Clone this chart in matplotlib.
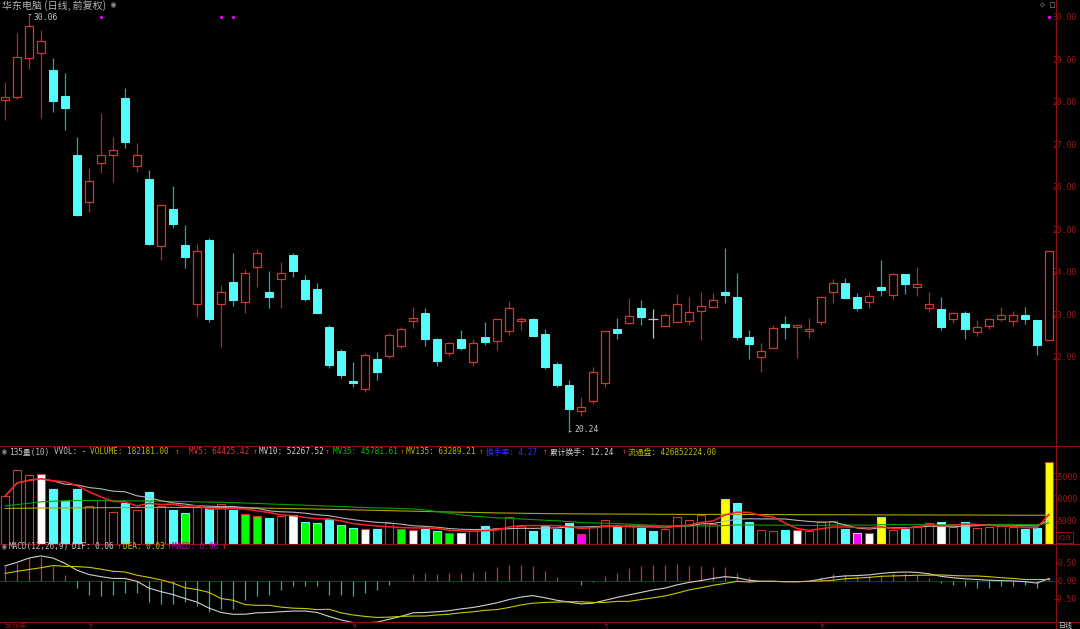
import numpy as np
import pandas as pd
import matplotlib
matplotlib.use('Agg')
import matplotlib.pyplot as plt
from matplotlib.lines import Line2D
from matplotlib.patches import Rectangle
from matplotlib.transforms import blended_transform_factory

# ============================================================
# DATA  (华东电脑 daily, 2020-02-20 .. 2020-06-30, qfq)
# ============================================================
opens = [
    28.05, 28.12, 29.04, 29.15, 28.75, 28.14, 26.75, 25.65, 26.56, 26.75,
    28.09, 26.49, 26.19, 24.61, 25.48, 24.64, 23.25, 24.75, 23.25, 23.76,
    23.29, 24.12, 23.53, 23.84, 24.40, 23.81, 23.60, 22.71, 22.14, 21.44,
    21.25, 21.95, 22.02, 22.26, 22.85, 23.04, 22.42, 22.09, 22.42, 21.88,
    22.47, 22.38, 22.61, 22.85, 22.89, 22.54, 21.84, 21.34, 20.73, 20.96,
    21.39, 22.66, 22.80, 23.15, 22.89, 22.73, 22.82, 22.85, 23.08, 23.18,
    23.53, 23.41, 22.47, 22.00, 22.21, 22.78, 22.71, 22.61, 22.82, 23.53,
    23.74, 23.41, 23.29, 23.65, 23.46, 23.95, 23.65, 23.15, 23.13, 22.89,
    23.04, 22.59, 22.73, 22.89, 22.85, 22.99, 22.87, 22.40]
highs = [
    28.47, 29.62, 30.06, 29.69, 29.04, 28.68, 27.18, 26.45, 27.74, 27.18,
    28.33, 27.04, 26.40, 25.58, 26.02, 25.11, 24.66, 24.80, 23.69, 24.45,
    24.07, 24.54, 24.02, 24.24, 24.45, 23.93, 23.74, 22.75, 22.19, 21.88,
    22.09, 22.12, 22.56, 22.71, 23.18, 23.15, 22.45, 22.35, 22.64, 22.42,
    22.82, 22.89, 23.32, 22.94, 22.92, 22.66, 21.88, 21.46, 21.06, 21.76,
    22.61, 22.92, 23.39, 23.34, 23.13, 23.04, 23.48, 23.41, 23.53, 23.51,
    24.56, 23.98, 22.64, 22.33, 22.75, 22.96, 22.75, 22.92, 23.41, 23.84,
    23.86, 23.51, 23.53, 24.28, 23.98, 23.95, 24.12, 23.53, 23.41, 23.06,
    23.08, 22.87, 22.92, 23.18, 23.08, 23.18, 22.87, 24.49]
lows = [
    27.58, 28.07, 28.78, 27.62, 27.76, 27.34, 25.32, 25.41, 26.33, 26.12,
    26.92, 26.35, 24.64, 24.28, 25.04, 24.09, 22.94, 22.82, 22.24, 23.20,
    23.04, 23.65, 23.15, 23.15, 23.88, 23.32, 23.04, 21.74, 21.51, 21.29,
    21.18, 21.46, 21.98, 22.21, 22.68, 22.26, 21.79, 22.02, 22.16, 21.79,
    22.28, 22.16, 22.52, 22.64, 22.49, 21.72, 21.29, 20.24, 20.61, 20.89,
    21.29, 22.42, 22.78, 22.75, 22.45, 22.73, 22.82, 22.75, 22.40, 23.18,
    23.27, 22.40, 21.95, 21.65, 22.21, 22.42, 21.98, 22.45, 22.75, 23.27,
    23.36, 23.08, 23.15, 23.44, 23.36, 23.48, 23.44, 23.06, 22.64, 22.80,
    22.42, 22.49, 22.66, 22.85, 22.73, 22.78, 22.05, 22.40]
closes = [
    28.12, 29.06, 29.79, 29.44, 28.02, 27.86, 25.34, 26.14, 26.75, 26.87,
    27.06, 26.75, 24.66, 25.58, 25.13, 24.35, 24.49, 22.89, 23.53, 23.34,
    23.98, 24.45, 23.41, 23.98, 24.02, 23.36, 23.04, 21.81, 21.58, 21.39,
    22.05, 21.65, 22.52, 22.66, 22.92, 22.42, 21.91, 22.33, 22.21, 22.33,
    22.35, 22.89, 23.15, 22.89, 22.49, 21.76, 21.34, 20.78, 20.82, 21.65,
    22.61, 22.56, 22.96, 22.94, 22.89, 22.99, 23.25, 23.06, 23.20, 23.34,
    23.46, 22.47, 22.31, 22.14, 22.68, 22.71, 22.75, 22.66, 23.41, 23.74,
    23.39, 23.15, 23.44, 23.58, 23.95, 23.72, 23.72, 23.25, 22.71, 23.04,
    22.66, 22.71, 22.89, 22.99, 22.99, 22.89, 22.28, 24.49]

# volume in lots (手)
volume = [
    104900, 163800, 152400, 154700, 120200, 94900, 120900, 83600, 97300, 70400,
    91100, 74200, 114000, 83600, 73600, 68200, 81100, 75800, 87300, 73600,
    66000, 60400, 56700, 62000, 64400, 46700, 45300, 54400, 40700, 34400,
    32900, 32200, 45300, 32900, 30000, 32200, 27600, 24400, 24400, 27600,
    37800, 35300, 58200, 40000, 27600, 39100, 32900, 45300, 22200, 36000,
    51300, 38400, 41300, 34400, 28400, 31500, 59100, 51300, 64400, 43800,
    98900, 90400, 47600, 30700, 28400, 30700, 29100, 26900, 47600, 49100,
    31500, 23100, 23100, 59100, 30700, 32200, 40000, 46000, 46700, 36900,
    47600, 33800, 36000, 39100, 36000, 31500, 33800, 182181]

# VVOL special bar fills (bar index lists)
vol_white = [3, 24, 30, 34, 38, 66, 72, 78]
vol_green = [15, 20, 21, 25, 26, 28, 29, 33, 36, 37]
vol_yellow = [60, 73, 87]
vol_magenta = [48, 71]

# MV35 before 35 bars of history are visible (thousands)
mv35_head = [83.6, 86.5, 89.5, 92.5, 94.0, 95.0, 95.5, 95.5, 95.5, 95.0,
             95.0, 94.5, 94.5, 94.0, 93.5, 93.0, 92.5, 92.0, 91.5, 91.0,
             90.0, 89.0, 88.0, 87.0, 86.0, 85.0, 84.0, 83.0, 82.0, 81.0,
             80.0, 79.0, 78.5, 77.7]
# MV135 (thousands)
mv135_k = [
    78.0, 78.2, 78.5, 78.8, 79.0, 79.1, 79.3, 79.4, 79.6, 79.7,
    79.8, 79.9, 80.1, 80.2, 80.2, 80.1, 80.0, 79.8, 79.6, 79.4,
    79.1, 78.8, 78.4, 78.0, 77.5, 77.0, 76.5, 76.0, 75.4, 74.8,
    74.2, 73.6, 73.0, 72.4, 71.8, 71.2, 70.6, 70.0, 69.5, 69.0,
    68.5, 68.0, 67.6, 67.2, 66.8, 66.5, 66.2, 66.0, 65.8, 65.6,
    65.5, 65.4, 65.3, 65.2, 65.0, 64.9, 64.8, 64.8, 64.7, 64.6,
    64.6, 64.5, 64.4, 64.4, 64.3, 64.2, 64.1, 64.0, 64.0, 63.9,
    63.9, 63.8, 63.7, 63.6, 63.6, 63.5, 63.5, 63.4, 63.4, 63.3,
    63.3, 63.2, 63.1, 63.0, 62.9, 62.8, 62.7, 63.3]

# MACD(12,26,9)
dif = [
    0.41, 0.51, 0.63, 0.69, 0.63, 0.48, 0.29, 0.17, 0.11, 0.06,
    0.06, -0.02, -0.21, -0.31, -0.39, -0.50, -0.60, -0.77, -0.89, -0.94,
    -0.94, -0.90, -0.89, -0.87, -0.85, -0.85, -0.89, -1.00, -1.10, -1.17,
    -1.18, -1.16, -1.08, -1.00, -0.90, -0.89, -0.87, -0.84, -0.79, -0.75,
    -0.69, -0.62, -0.53, -0.46, -0.42, -0.48, -0.55, -0.60, -0.65, -0.63,
    -0.55, -0.47, -0.40, -0.33, -0.26, -0.21, -0.12, -0.05, 0.00, 0.06,
    0.11, 0.08, 0.01, -0.02, -0.02, -0.03, -0.03, -0.02, 0.04, 0.10,
    0.13, 0.14, 0.16, 0.20, 0.23, 0.24, 0.23, 0.19, 0.12, 0.08,
    0.05, 0.03, 0.01, 0.00, -0.01, -0.03, -0.07, 0.06]
dea = [
    0.20, 0.26, 0.31, 0.36, 0.42, 0.40, 0.39, 0.37, 0.32, 0.26,
    0.24, 0.15, 0.09, 0.02, -0.07, -0.20, -0.25, -0.33, -0.50, -0.55,
    -0.67, -0.69, -0.69, -0.74, -0.77, -0.78, -0.81, -0.80, -0.90, -0.96,
    -1.00, -1.03, -1.02, -1.00, -0.99, -0.99, -0.96, -0.94, -0.90, -0.87,
    -0.83, -0.81, -0.75, -0.68, -0.63, -0.61, -0.60, -0.59, -0.59, -0.61,
    -0.61, -0.58, -0.58, -0.53, -0.48, -0.43, -0.35, -0.26, -0.20, -0.13,
    -0.08, -0.02, -0.04, -0.02, -0.02, -0.03, -0.03, -0.02, -0.01, 0.01,
    0.05, 0.07, 0.09, 0.12, 0.13, 0.14, 0.15, 0.15, 0.16, 0.14,
    0.13, 0.13, 0.11, 0.08, 0.06, 0.03, 0.03, 0.03]

# date axis: first bar of each month
month_ticks = [0, 7, 29, 50, 68]
month_labels = ['2020年', '3', '4', '5', '6']
# information-mine markers
event_idx = [8, 18, 19, 87]

# ============================================================
# STYLE / LAYOUT (pixel based)
# ============================================================
W, H = 1080, 629
AX_RIGHT = 1055.7
Y_PRICE_BOT = 446
Y_VOL_BOT = 543.5
Y_MACD_BOT = 621.5
UP = '#d83434'
UP_WICK = '#b02a2a'
DN = '#54fcfc'
DN_WICK = '#2aa0a0'
FLAT = '#c0c0c0'
AXIS_RED = '#8c1010'
LABEL_RED = '#a01818'
MONO = ['DejaVu Sans Mono', 'Noto Sans CJK SC']
CJK = ['Noto Sans CJK SC', 'DejaVu Sans']
BODY_W = 0.68

fig = plt.figure(figsize=(W / 100, H / 100), dpi=100, facecolor='black')


def px_axes(x0, y0, x1, y1):
    ax = fig.add_axes([x0 / W, 1 - y1 / H, (x1 - x0) / W, (y1 - y0) / H])
    ax.set_facecolor('black')
    for s in ax.spines.values():
        s.set_visible(False)
    ax.set_xlim(-5 / 12, (AX_RIGHT - 5) / 12)
    ax.set_xticks([])
    return ax


def right_labels(ax, ticks, labels, tick_len=0.0):
    ax.yaxis.tick_right()
    ax.set_yticks(ticks)
    ax.set_yticklabels(labels)
    pad_px = (1077 - AX_RIGHT) - tick_len
    ax.tick_params(axis='y', direction='out', length=tick_len * 0.72, width=0.7,
                   color=AXIS_RED, pad=pad_px * 0.72, labelsize=5.8,
                   labelcolor=LABEL_RED, labelfontfamily='DejaVu Sans Mono')
    for lbl in ax.get_yticklabels():
        lbl.set_horizontalalignment('right')


def ftext(x, y, s, color, size=5.6, family=MONO, va='center', **kw):
    fig.text(x / W, 1 - y / H, s, color=color, fontsize=size, family=family,
             va=va, ha='left', **kw)


o, h, l, c = (np.array(a, dtype=float) for a in (opens, highs, lows, closes))
idx = np.arange(len(o))
up = c > o
dn = c < o
fl = c == o
lo_b = np.minimum(o, c)
hi_b = np.maximum(o, c)

# ============================================================
# PRICE PANEL
# ============================================================
ax_p = px_axes(0, 0, AX_RIGHT, Y_PRICE_BOT)
ax_p.set_ylim(30 - (Y_PRICE_BOT - 17) / 42.5, 30 + 17 / 42.5)

ax_p.vlines(idx[dn], l[dn], h[dn], color=DN_WICK, lw=0.9, zorder=1)
ax_p.bar(idx[dn], np.maximum(hi_b[dn] - lo_b[dn], 0.03), bottom=lo_b[dn], width=BODY_W,
         color=DN, edgecolor=DN, lw=0.7, zorder=2)
ax_p.vlines(idx[up], hi_b[up], h[up], color=UP_WICK, lw=0.9, zorder=1)
ax_p.vlines(idx[up], l[up], lo_b[up], color=UP_WICK, lw=0.9, zorder=1)
ax_p.bar(idx[up], hi_b[up] - lo_b[up], bottom=lo_b[up], width=BODY_W,
         facecolor='black', edgecolor=UP, lw=0.9, zorder=2)
ax_p.vlines(idx[fl], l[fl], h[fl], color=FLAT, lw=0.9)
ax_p.hlines(o[fl], idx[fl] - 0.4, idx[fl] + 0.4, color=FLAT, lw=0.9)

ih, il = int(np.argmax(h)), int(np.argmin(l))
ax_p.annotate(f'{h[ih]:.2f}', xy=(ih, h[ih]), xytext=(5, -3), textcoords='offset pixels',
              color='#c8c8c8', fontsize=5.8, family=MONO, va='center', ha='left',
              arrowprops=dict(arrowstyle='-', color='#c8c8c8', lw=0.6, shrinkA=0, shrinkB=0))
ax_p.annotate(f'{l[il]:.2f}', xy=(il, l[il]), xytext=(5, 2), textcoords='offset pixels',
              color='#c8c8c8', fontsize=5.8, family=MONO, va='center', ha='left',
              arrowprops=dict(arrowstyle='-', color='#c8c8c8', lw=0.6, shrinkA=0, shrinkB=0))

ev_tr = blended_transform_factory(ax_p.transData, ax_p.transAxes)
ax_p.scatter(event_idx, [1 - 16.5 / Y_PRICE_BOT] * len(event_idx), s=1.5, color='#ff00ff',
             transform=ev_tr, zorder=3)

right_labels(ax_p, np.arange(22, 31), [f'{v:.2f}' for v in range(22, 31)])

# ============================================================
# VOLUME PANEL
# ============================================================
ax_v = px_axes(0, Y_PRICE_BOT, AX_RIGHT, Y_VOL_BOT)
ax_v.set_ylim(0, (Y_VOL_BOT - Y_PRICE_BOT) / 22.5 * 50000)

vol = np.array(volume, dtype=float)
fills = np.where(up, 'black', DN).astype(object)
edges = np.where(up, UP, DN).astype(object)
for lst, col in ((vol_white, '#ffffff'), (vol_green, '#00ff00'),
                 (vol_yellow, '#ffff00'), (vol_magenta, '#ff00ff')):
    fills[lst] = col
ax_v.bar(idx, vol, width=BODY_W, color=list(fills), edgecolor=list(edges), lw=0.8, zorder=2)

vs = pd.Series(vol)
mv5 = vs.rolling(5, min_periods=1).mean()
mv10 = vs.rolling(10, min_periods=1).mean()
mv35 = np.concatenate([np.array(mv35_head) * 1000,
                       vs.rolling(35).mean().values[len(mv35_head):]])
mv135 = np.array(mv135_k) * 1000
ax_v.plot(idx, mv135, color='#a8a800', lw=0.8, zorder=3)
ax_v.plot(idx, mv35, color='#00a000', lw=0.8, zorder=3)
ax_v.plot(idx, mv10, color='#b4b4b4', lw=0.8, zorder=3)
ax_v.plot(idx, mv5, color='#ff2020', lw=1.1, zorder=3)

right_labels(ax_v, [50000, 100000, 150000], ['5000', '10000', '15000'], tick_len=3)

fig.add_artist(Rectangle((1056 / W, 1 - 542.5 / H), 16.5 / W, 10.5 / H, fill=False,
                         edgecolor=AXIS_RED, lw=0.7, transform=fig.transFigure))
ftext(1058, 537.5, 'X10', LABEL_RED, size=5.3)

# ============================================================
# MACD PANEL
# ============================================================
ax_m = px_axes(0, Y_VOL_BOT, AX_RIGHT, Y_MACD_BOT)
ax_m.set_ylim((580.6 - Y_MACD_BOT) / 35.8, (580.6 - Y_VOL_BOT) / 35.8)
dif_a, dea_a = np.array(dif), np.array(dea)
macd = 2 * (dif_a - dea_a)
ax_m.axhline(0, color=AXIS_RED, lw=0.6, zorder=1)
ax_m.vlines(idx, 0, macd, colors=np.where(macd >= 0, '#c83030', '#30a8a8'), lw=0.9, zorder=2)
ax_m.plot(idx, dif_a, color='#d0d0d0', lw=0.8, zorder=3)
ax_m.plot(idx, dea_a, color='#c8c800', lw=0.8, zorder=3)
right_labels(ax_m, [0.5, 0.0, -0.5], ['0.50', '0.00', '-0.50'], tick_len=3)

# date axis: ticks below the line, labels drawn inside the last few pixels
ax_m.set_xticks(month_ticks)
ax_m.set_xticklabels([])
ax_m.tick_params(axis='x', direction='out', length=2.0, width=0.7, color=AXIS_RED)
date_tr = blended_transform_factory(ax_m.transData, fig.transFigure)
for t, lab in zip(month_ticks, month_labels):
    ax_m.text(t, 1 - 628.6 / H, lab, transform=date_tr, color=LABEL_RED,
              fontsize=4.6, family=MONO, ha='left', va='bottom', clip_on=False)

# ============================================================
# FRAME LINES
# ============================================================
for y in (Y_PRICE_BOT, Y_VOL_BOT, Y_MACD_BOT):
    fig.add_artist(Line2D([0, 1], [1 - y / H] * 2, color=AXIS_RED, lw=0.8,
                          transform=fig.transFigure))
fig.add_artist(Line2D([AX_RIGHT / W] * 2, [0, 1], color=AXIS_RED, lw=0.8,
                      transform=fig.transFigure))

# ============================================================
# HEADER TEXTS
# ============================================================
ftext(2, 5.5, '华东电脑 (日线, 前复权)', '#b4b4b4', size=7.2, family=CJK)
ftext(111, 4.5, '◉', '#909090', size=6)
ftext(1040, 4.5, '◇', '#909090', size=6)
ftext(1050, 4.5, '□', '#909090', size=6)

ARROW = '#ff3030'
vol_head = [
    (2, '◉', '#909090'), (8.6, '135量(10)', '#c0c0c0'), (54, 'VVOL: -', '#c0c0c0'),
    (90, 'VOLUME: 182181.00', '#b8b800'), (175, '↑', ARROW),
    (189, 'MV5: 64425.42', '#e83030'), (253, '↑', ARROW),
    (259, 'MV10: 52267.52', '#d0d0d0'), (325.4, '↑', ARROW),
    (333, 'MV35: 45781.61', '#00c000'), (400, '↑', ARROW),
    (406, 'MV135: 63289.21', '#b8b800'), (478.6, '↑', ARROW),
    (485.5, '换手率: 4.27', '#3030ff'), (543.4, '↑', ARROW),
    (549.6, '累计换手: 12.24', '#d0d0d0'), (622, '↑', ARROW),
    (628, '流通盘: 426852224.00', '#b8b800'),
]
for x, s, col in vol_head:
    ftext(x, 452, s, col)

macd_head = [
    (2, '◉', '#909090'), (8.6, 'MACD(12,26,9)', '#c0c0c0'),
    (72, 'DIF: 0.06', '#d0d0d0'), (117, '↑', ARROW),
    (123, 'DEA: 0.03', '#c8c800'), (167, '↑', ARROW),
    (172, 'MACD: 0.06', '#c000c0'), (222, '↑', ARROW),
]
for x, s, col in macd_head:
    ftext(x, 546.5, s, col)

ftext(1059, 628.6, '日线', '#d0d0d0', size=5.0, family=MONO, va='bottom')

fig.savefig('out.png', dpi=100, facecolor='black')
